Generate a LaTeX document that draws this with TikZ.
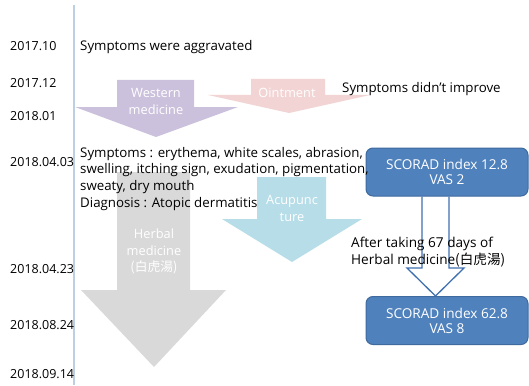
\documentclass[tikz,border=0pt]{standalone}
\usepackage{fontspec}
\setmainfont{Open Sans}
\newfontfamily\cjk{Noto Sans CJK KR}
\definecolor{lineblue}{HTML}{BCD0E4}
\definecolor{western}{HTML}{CCC1DC}
\definecolor{ointment}{HTML}{F2D4D4}
\definecolor{acu}{HTML}{B7DDE8}
\definecolor{herbal}{HTML}{D9D9D9}
\definecolor{boxblue}{HTML}{4F81BD}
\definecolor{boxedge}{HTML}{3F6A9E}
\definecolor{hollow}{HTML}{4070B0}
\begin{document}
\begin{tikzpicture}[x=1pt,y=-1pt,
  date/.style={font=\fontsize{12.5}{16}\selectfont, anchor=base west, inner sep=0pt, text=black},
  txt/.style={font=\fontsize{13.3}{16}\selectfont, anchor=base west, inner sep=0pt, text=black},
  lbl/.style={font=\fontsize{12.8}{16.5}\selectfont, align=center, text=white, inner sep=0pt},
  scorad/.style={draw=boxedge, line width=1pt, fill=boxblue, rounded corners=7pt, minimum width=162pt, minimum height=48pt, text=white, align=center, font=\fontsize{13.6}{15}\selectfont, inner sep=0pt}
]
\useasboundingbox (0,0) rectangle (529,385);
\fill[white] (0,0) rectangle (529,385);

% time line
\draw[lineblue, line width=1.5pt] (74,5) coordinate (ltop) -- (74,385) coordinate (lbot);

% big arrows
\fill[herbal] (117,172) -- (190,172) -- (190,290) -- (226,290) -- (154,367) -- (81,290) -- (117,290) -- cycle;
\fill[western] (117,80) -- (194,80) -- (194,107) -- (238,107) -- (156,137) -- (75,107) -- (117,107) -- cycle;
\fill[ointment] (251,79) -- (325,79) -- (325,95) -- (370,95) -- (289,113) -- (208,95) -- (251,95) -- cycle;
\fill[acu] (257,177) -- (326,177) -- (326,219) -- (362,219) -- (292,262) -- (222,219) -- (257,219) -- cycle;

% arrow labels
\node[lbl] (lw) at (156,101.5) {Western\\medicine};
\node[lbl] (lo) at (287,93) {Ointment};
\node[lbl] (la) at (292,208.5) {Acupunc\\ture};
\node[lbl] (lh) at (154,251.5) {Herbal\\medicine\\{\cjk(白虎湯)}};

% SCORAD boxes
\node[scorad] (b1) at (447,172) {SCORAD index 12.8\\VAS 2};
\node[scorad] (b2) at (447,320.5) {SCORAD index 62.8\\VAS 8};

% hollow arrow between boxes
\coordinate (hl) at (422,268);
\coordinate (hr) at (449,268);
\coordinate (tip) at (435.5,0);
\draw[hollow, line width=1.3pt, line join=miter]
  (b1.south -| hl) -- (hl) -- (407,268) -- (b2.north -| tip) -- (464,268) -- (hr) -- (b1.south -| hr);

% dates
\node[date] (d1) at (10,51) {2017.10};
\node[date] (d2) at (10,88) {2017.12};
\node[date] (d3) at (10,120) {2018.01};
\node[date] (d4) at (10,166) {2018.04.03};
\node[date] (d5) at (10,273) {2018.04.23};
\node[date] (d6) at (10,329) {2018.08.24};
\node[date] (d7) at (10,378) {2018.09.14};

% texts
\node[txt] (t1) at (80,51) {Symptoms were aggravated};
\node[txt] (t2) at (342,92.5) {Symptoms didn’t improve};
\node[txt] (s1) at (80,157) {Symptoms : erythema, white scales, abrasion,};
\node[txt] (s2) at (80,173.5) {swelling, itching sign, exudation, pigmentation,};
\node[txt] (s3) at (80,190) {sweaty, dry mouth};
\node[txt] (s4) at (80,207) {Diagnosis : Atopic dermatitis};

\node[txt, font=\fontsize{13.6}{16}\selectfont] (h1) at (351,247) {After taking 67 days of};
\node[txt, font=\fontsize{13.6}{16}\selectfont] (h2) at (351,264.5) {Herbal medicine{\cjk(白虎湯)}};
\end{tikzpicture}
\end{document}
